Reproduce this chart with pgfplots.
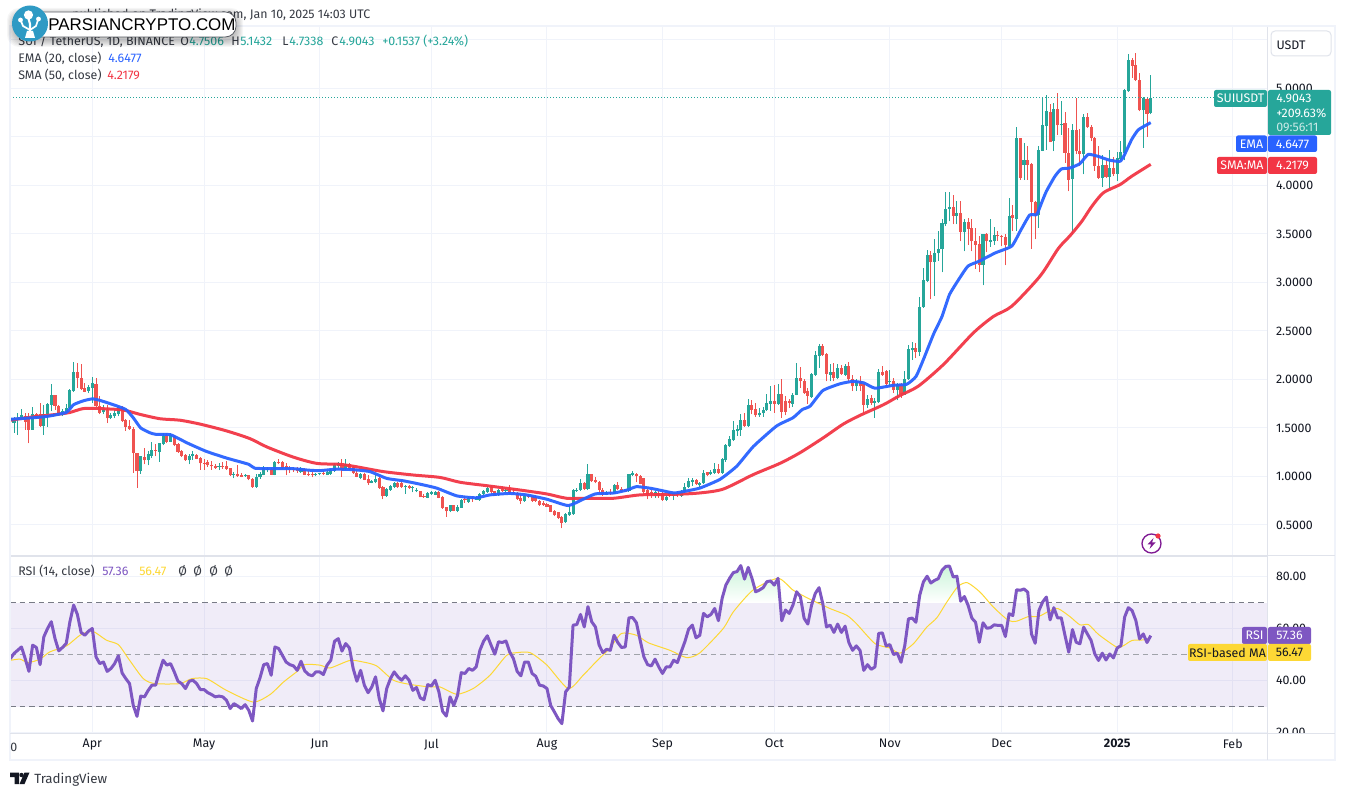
\documentclass[border=0pt]{standalone}
\usepackage{fontspec}
\usepackage{pgfplots}
\usepackage{pgfplotstable}
\pgfplotsset{compat=1.18}
\setmainfont{Fira Sans}
\definecolor{cup}{HTML}{26A69A}
\definecolor{cdn}{HTML}{EF5350}
\definecolor{cema}{HTML}{2962FF}
\definecolor{csma}{HTML}{F23645}
\definecolor{crsi}{HTML}{7E57C2}
\definecolor{cma}{HTML}{FDD835}
\definecolor{cgrid}{HTML}{F0F3FA}
\definecolor{cframe}{HTML}{E0E3EB}
\definecolor{ctxt}{HTML}{131722}
\definecolor{cdash}{HTML}{787B86}
\definecolor{clogo}{HTML}{2F9AC4}
\pgfplotstableread{
d o h l c
-22 1.60 1.63 1.50 1.57
-21 1.55 1.61 1.45 1.59
-20 1.58 1.65 1.43 1.60
-19 1.60 1.70 1.59 1.63
-18 1.62 1.65 1.48 1.56
-17 1.60 1.65 1.34 1.48
-16 1.48 1.72 1.48 1.64
-15 1.64 1.65 1.59 1.60
-14 1.64 1.76 1.51 1.52
-13 1.52 1.74 1.43 1.64
-12 1.64 1.76 1.51 1.75
-11 1.74 1.95 1.67 1.835
-10 1.835 1.835 1.69 1.73
-9 1.73 1.735 1.63 1.64
-8 1.63 1.70 1.62 1.68
-7 1.66 1.75 1.64 1.71
-6 1.71 1.90 1.70 1.89
-5 1.88 2.18 1.87 2.08
-4 2.08 2.17 1.91 2.01
-3 2.02 2.155 1.89 1.90
-2 1.91 1.965 1.87 1.875
-1 1.88 1.94 1.86 1.92
0 1.91 2.03 1.76 1.965
1 1.95 2.02 1.72 1.725
2 1.725 1.83 1.64 1.655
3 1.66 1.74 1.64 1.70
4 1.69 1.74 1.55 1.60
5 1.60 1.655 1.59 1.63
6 1.62 1.69 1.60 1.65
7 1.64 1.725 1.62 1.72
8 1.72 1.73 1.56 1.57
9 1.58 1.59 1.47 1.51
10 1.525 1.58 1.48 1.485
11 1.49 1.51 1.04 1.24
12 1.245 1.245 0.885 1.055
13 1.055 1.215 1.03 1.21
14 1.20 1.295 1.125 1.165
15 1.165 1.26 1.115 1.23
16 1.215 1.355 1.19 1.27
17 1.275 1.33 1.21 1.265
18 1.25 1.34 1.15 1.34
19 1.33 1.445 1.32 1.42
20 1.43 1.45 1.34 1.36
21 1.36 1.45 1.355 1.43
22 1.415 1.43 1.31 1.32
23 1.335 1.35 1.245 1.25
24 1.26 1.27 1.20 1.215
25 1.225 1.235 1.16 1.165
26 1.165 1.235 1.125 1.215
27 1.215 1.26 1.17 1.225
28 1.225 1.235 1.175 1.185
29 1.19 1.20 1.07 1.135
30 1.14 1.175 1.07 1.13
31 1.15 1.165 1.10 1.115
32 1.12 1.16 1.07 1.105
33 1.11 1.125 1.08 1.09
34 1.095 1.14 1.065 1.10
35 1.11 1.15 1.08 1.10
36 1.105 1.16 1.07 1.08
37 1.085 1.09 1.005 1.01
38 1.01 1.045 0.98 1.03
39 1.03 1.115 0.995 1.00
40 1.01 1.035 0.99 0.995
41 1.00 1.03 0.995 1.015
42 1.01 1.015 0.96 0.97
43 0.975 0.985 0.885 0.89
44 0.89 1.03 0.885 0.995
45 0.99 1.045 0.975 1.03
46 1.02 1.105 1.01 1.09
47 1.065 1.10 1.045 1.08
48 1.08 1.085 1.015 1.02
49 1.02 1.16 1.01 1.15
50 1.15 1.175 1.125 1.135
51 1.15 1.16 1.08 1.09
52 1.11 1.135 1.01 1.08
53 1.09 1.105 1.04 1.07
54 1.08 1.10 1.045 1.065
55 1.07 1.10 1.04 1.06
56 1.045 1.10 1.04 1.09
57 1.08 1.085 1.015 1.02
58 1.03 1.055 1.00 1.015
59 1.02 1.045 0.99 1.015
60 1.015 1.04 1.00 1.03
61 1.025 1.04 1.01 1.03
62 1.03 1.055 1.01 1.025
63 1.015 1.065 1.01 1.05
64 1.03 1.08 1.02 1.065
65 1.06 1.135 1.05 1.115
66 1.11 1.15 1.09 1.14
67 1.115 1.18 0.995 1.07
68 1.075 1.18 1.07 1.125
69 1.125 1.14 1.07 1.08
70 1.10 1.11 1.03 1.035
71 1.04 1.06 0.99 0.995
72 0.985 1.04 0.97 1.025
73 1.025 1.04 0.96 0.965
74 0.97 1.015 0.915 0.93
75 0.935 0.965 0.93 0.95
76 0.94 1.015 0.93 0.975
77 0.985 1.005 0.875 0.885
78 0.895 0.905 0.765 0.795
79 0.80 0.88 0.79 0.87
80 0.865 0.915 0.855 0.90
81 0.895 0.94 0.885 0.93
82 0.93 0.94 0.885 0.89
83 0.93 0.96 0.885 0.895
84 0.89 0.91 0.82 0.90
85 0.90 0.91 0.875 0.885
86 0.88 0.897 0.835 0.887
87 0.845 0.885 0.835 0.85
88 0.85 0.855 0.785 0.785
89 0.80 0.82 0.78 0.785
90 0.78 0.84 0.775 0.83
91 0.82 0.85 0.81 0.835
92 0.81 0.855 0.805 0.84
93 0.84 0.855 0.775 0.78
94 0.79 0.795 0.665 0.675
95 0.685 0.69 0.585 0.64
96 0.64 0.71 0.63 0.705
97 0.705 0.71 0.64 0.645
98 0.645 0.705 0.63 0.685
99 0.68 0.765 0.675 0.755
100 0.76 0.795 0.73 0.755
101 0.74 0.795 0.73 0.78
102 0.78 0.795 0.74 0.77
103 0.76 0.80 0.755 0.785
104 0.755 0.83 0.75 0.82
105 0.815 0.865 0.81 0.85
106 0.84 0.905 0.83 0.885
107 0.895 0.91 0.83 0.835
108 0.85 0.855 0.795 0.80
109 0.805 0.875 0.80 0.86
110 0.86 0.895 0.84 0.855
111 0.85 0.885 0.835 0.86
112 0.875 0.91 0.82 0.83
113 0.84 0.885 0.82 0.83
114 0.83 0.84 0.76 0.765
115 0.78 0.81 0.715 0.745
116 0.745 0.81 0.74 0.80
117 0.80 0.82 0.775 0.79
118 0.795 0.80 0.74 0.745
119 0.79 0.80 0.74 0.75
120 0.75 0.76 0.70 0.705
121 0.73 0.745 0.70 0.705
122 0.72 0.73 0.685 0.69
123 0.705 0.71 0.63 0.635
124 0.645 0.655 0.59 0.60
125 0.63 0.635 0.565 0.575
126 0.585 0.595 0.465 0.525
127 0.53 0.62 0.52 0.61
128 0.60 0.705 0.595 0.63
129 0.61 0.87 0.605 0.86
130 0.85 0.885 0.84 0.86
131 0.86 0.97 0.85 0.93
132 0.935 0.94 0.86 0.87
133 0.87 1.125 0.86 1.025
134 1.025 1.03 0.945 0.95
135 0.965 0.99 0.93 0.94
136 0.945 0.95 0.83 0.86
137 0.86 0.885 0.80 0.81
138 0.81 0.85 0.805 0.84
139 0.84 0.87 0.81 0.83
140 0.82 0.92 0.815 0.915
141 0.915 0.945 0.86 0.87
142 0.875 0.89 0.835 0.84
143 0.87 0.875 0.835 0.84
144 0.85 1.03 0.84 1.025
145 1.02 1.06 1.00 1.025
146 1.025 1.035 0.94 1.00
147 1.005 1.015 0.92 0.925
148 0.98 0.985 0.83 0.835
149 0.86 0.875 0.765 0.815
150 0.84 0.865 0.78 0.825
151 0.80 0.85 0.78 0.84
152 0.83 0.85 0.78 0.80
153 0.83 0.84 0.75 0.755
154 0.755 0.805 0.745 0.79
155 0.825 0.84 0.79 0.80
156 0.80 0.83 0.755 0.815
157 0.83 0.845 0.79 0.81
158 0.80 0.865 0.79 0.845
159 0.84 0.93 0.825 0.895
160 0.89 0.985 0.88 0.95
161 0.945 0.98 0.90 0.96
162 0.96 0.975 0.915 0.92
163 0.915 0.94 0.895 0.935
164 0.93 1.07 0.92 1.04
165 1.045 1.05 1.00 1.02
166 1.025 1.065 1.01 1.05
167 1.04 1.14 1.03 1.08
168 1.08 1.125 1.03 1.04
169 1.04 1.19 1.03 1.175
170 1.17 1.33 1.15 1.32
171 1.31 1.415 1.305 1.39
172 1.375 1.57 1.365 1.475
173 1.465 1.535 1.42 1.485
174 1.475 1.64 1.42 1.585
175 1.585 1.655 1.51 1.52
176 1.52 1.795 1.51 1.74
177 1.74 1.785 1.64 1.69
178 1.70 1.76 1.615 1.63
179 1.63 1.71 1.615 1.655
180 1.65 1.72 1.615 1.69
181 1.685 1.855 1.68 1.76
182 1.75 1.93 1.675 1.775
183 1.775 1.94 1.655 1.75
184 1.75 1.95 1.74 1.855
185 1.855 2.005 1.605 1.665
186 1.78 1.83 1.63 1.665
187 1.78 1.80 1.71 1.76
188 1.75 1.86 1.72 1.845
189 1.84 2.17 1.835 2.015
190 2.015 2.13 1.915 1.98
191 1.985 2.00 1.855 1.86
192 1.88 1.915 1.75 1.83
193 1.82 2.07 1.81 2.06
194 2.05 2.29 2.035 2.25
195 2.24 2.37 2.12 2.35
196 2.35 2.37 2.24 2.25
197 2.26 2.27 1.98 2.06
198 2.05 2.155 1.98 2.08
199 2.08 2.17 1.98 2.02
200 2.02 2.155 2.00 2.12
201 2.12 2.145 2.05 2.06
202 2.05 2.155 2.04 2.14
203 2.14 2.18 1.98 2.00
204 2.005 2.05 1.88 1.93
205 1.93 2.00 1.88 1.98
206 1.98 2.04 1.88 1.93
207 1.95 1.955 1.655 1.74
208 1.74 1.845 1.71 1.80
209 1.805 1.84 1.74 1.755
210 1.76 1.805 1.605 1.775
211 1.765 2.11 1.76 2.075
212 2.08 2.14 2.04 2.05
213 2.085 2.10 1.93 1.95
214 1.97 2.10 1.93 1.98
215 1.98 2.015 1.86 1.895
216 1.895 1.965 1.785 1.95
217 1.95 1.965 1.81 1.855
218 1.845 2.085 1.84 2.005
219 2.00 2.36 1.995 2.31
220 2.30 2.39 2.205 2.32
221 2.32 2.38 2.22 2.285
222 2.28 2.85 2.24 2.75
223 2.745 3.15 2.74 3.03
224 3.02 3.33 3.01 3.28
225 3.28 3.32 2.825 3.21
226 3.21 3.445 2.86 3.305
227 3.30 3.53 3.225 3.35
228 3.34 3.65 3.105 3.61
229 3.60 3.93 3.58 3.76
230 3.755 3.93 3.63 3.78
231 3.78 3.905 3.60 3.69
232 3.69 3.84 3.60 3.72
233 3.72 3.84 3.425 3.52
234 3.52 3.655 3.32 3.625
235 3.625 3.665 3.39 3.555
236 3.565 3.655 3.32 3.425
237 3.43 3.565 3.14 3.39
238 3.40 3.48 3.105 3.185
239 3.185 3.50 2.97 3.495
240 3.495 3.51 3.31 3.425
241 3.42 3.655 3.37 3.44
242 3.43 3.575 3.39 3.485
243 3.485 3.53 3.43 3.475
244 3.475 3.49 3.375 3.47
245 3.47 3.495 3.175 3.385
246 3.38 3.87 3.375 3.69
247 3.70 3.795 3.53 3.66
248 3.65 4.60 3.53 4.49
249 4.485 4.49 4.06 4.08
250 4.21 4.44 4.06 4.26
251 4.26 4.405 4.06 4.215
252 4.225 4.23 3.35 3.83
253 3.83 3.84 3.445 3.70
254 3.70 4.405 3.565 4.37
255 4.36 4.905 4.355 4.62
256 4.61 4.93 4.37 4.765
257 4.76 4.845 4.445 4.445
258 4.455 4.85 4.355 4.785
259 4.785 4.955 4.525 4.62
260 4.62 4.87 4.525 4.635
261 4.64 4.755 4.235 4.335
262 4.34 4.595 3.94 4.06
263 4.07 4.63 3.495 4.575
264 4.575 4.905 4.32 4.355
265 4.36 4.585 4.20 4.32
266 4.32 4.74 4.115 4.71
267 4.71 4.75 4.595 4.60
268 4.605 4.62 4.455 4.485
269 4.49 4.50 4.15 4.20
270 4.205 4.41 4.07 4.08
271 4.08 4.31 3.985 4.215
272 4.215 4.26 4.08 4.085
273 4.085 4.365 3.96 4.18
274 4.18 4.295 4.095 4.115
275 4.12 4.345 4.045 4.285
276 4.27 4.455 4.25 4.345
277 4.335 4.99 4.26 4.98
278 4.97 5.36 4.965 5.29
279 5.29 5.315 5.11 5.235
280 5.245 5.365 5.075 5.085
281 5.09 5.16 4.765 4.775
282 4.775 4.915 4.39 4.90
283 4.895 4.90 4.50 4.74
284 4.7506 5.1432 4.7338 4.9043
}\candles
\begin{document}
\begin{tikzpicture}[font=\fontsize{9.3pt}{11pt}\selectfont]
\path[use as bounding box,fill=white] (0,0) rectangle (1008.75pt,597pt);
% ---------- price pane
\begin{axis}[
  at={(7.5pt,180pt)},anchor=south west,scale only axis,
  width=942.75pt,height=396.75pt,
  xmin=-22.08,xmax=315.2,ymin=0.18,ymax=5.634,
  axis line style={draw=cframe,line width=0.75pt},
  xtick={0,30,61,91,122,153,183,214,244,275,306},xticklabels={},
  ytick={0.5,1,1.5,2,2.5,3,3.5,4,5},
  extra y ticks={4.5,5.5},extra y tick labels={},
  extra y tick style={grid=major},
  ytick pos=right,yticklabel pos=right,
  major tick length=0pt,
  grid=major,grid style={draw=cgrid,line width=0.75pt},
  yticklabel style={anchor=west,inner sep=0pt,xshift=6.6pt,text=ctxt,
    /pgf/number format/.cd,fixed,fixed zerofill,precision=4,assume math mode=true},
  clip=true,
]
\addplot[draw=none,no markers,error bars/.cd,y dir=plus,y explicit,error mark=none,
  error bar style={draw=cup,solid,line width=0.75pt}]
  table[x=d,y expr={\thisrow{c}>=\thisrow{o} ? \thisrow{l} : nan},y error plus expr={\thisrow{h}-\thisrow{l}}]{\candles};
\addplot[draw=none,no markers,error bars/.cd,y dir=plus,y explicit,error mark=none,
  error bar style={draw=cdn,solid,line width=0.75pt}]
  table[x=d,y expr={\thisrow{c}<\thisrow{o} ? \thisrow{l} : nan},y error plus expr={\thisrow{h}-\thisrow{l}}]{\candles};
\addplot[draw=none,no markers,error bars/.cd,y dir=plus,y explicit,error mark=none,
  error bar style={draw=cup,solid,line width=2.3pt}]
  table[x=d,y expr={\thisrow{c}>=\thisrow{o} ? \thisrow{o} : nan},y error plus expr={max(\thisrow{c}-\thisrow{o},0.012)}]{\candles};
\addplot[draw=none,no markers,error bars/.cd,y dir=plus,y explicit,error mark=none,
  error bar style={draw=cdn,solid,line width=2.3pt}]
  table[x=d,y expr={\thisrow{c}<\thisrow{o} ? \thisrow{c} : nan},y error plus expr={max(\thisrow{o}-\thisrow{c},0.012)}]{\candles};
\addplot[csma,line width=2.25pt,line join=round,opacity=0.95,smooth,tension=0.45] coordinates {(-22,1.58)(-15.8,1.615)(-9.6,1.64)(-6,1.66)(-2.4,1.70)(2,1.70)(8.3,1.685)(12.8,1.64)(18.2,1.595)(23.5,1.58)(28.9,1.54)(36,1.47)(42.3,1.39)(46.8,1.305)(53.9,1.20)(60.2,1.135)(66.5,1.125)(70.9,1.10)(78.1,1.05)(86.1,1.015)(93.3,0.99)(98.7,0.94)(105.8,0.905)(114.8,0.86)(121.9,0.82)(127.3,0.775)(132.6,0.775)(139.8,0.775)(147,0.81)(155.9,0.815)(163,0.83)(169.3,0.87)(177.4,1.02)(184.5,1.135)(189.9,1.245)(196.2,1.40)(201.5,1.54)(206,1.63)(212.3,1.74)(216.7,1.835)(221.6,1.93)(228.4,2.155)(236.4,2.48)(241.8,2.65)(246.7,2.755)(254.3,3.065)(259.2,3.35)(262.3,3.48)(265.5,3.63)(268.2,3.785)(271.3,3.925)(275.8,4.01)(278.9,4.095)(284,4.2179)};
\addplot[cema,line width=2.25pt,line join=round,opacity=0.95,smooth,tension=0.3] coordinates {(-22,1.59)(-16,1.605)(-12,1.62)(-7,1.66)(-5,1.74)(-2.4,1.78)(0,1.80)(2,1.785)(6,1.735)(9,1.69)(11,1.605)(13,1.50)(15.5,1.45)(17,1.435)(21,1.43)(25.5,1.345)(30.5,1.26)(36,1.19)(42,1.125)(43.6,1.085)(48.5,1.08)(54,1.08)(58,1.065)(61,1.06)(65.5,1.075)(70,1.07)(74.5,1.05)(79,0.98)(83.5,0.955)(88,0.92)(92.4,0.88)(97.8,0.80)(103,0.78)(106.7,0.81)(112,0.825)(116.5,0.81)(122,0.765)(127.7,0.70)(131.7,0.765)(135,0.82)(140,0.83)(143.5,0.86)(146,0.895)(149.5,0.88)(151.5,0.865)(156,0.83)(158,0.84)(163,0.88)(168.4,0.97)(172.9,1.105)(177.4,1.31)(183.6,1.52)(188,1.605)(190.5,1.69)(192.6,1.725)(196,1.885)(200.6,1.955)(204,1.98)(207,1.965)(210,1.91)(215,1.94)(218.5,1.95)(221,2.03)(223,2.205)(225.7,2.465)(228,2.65)(230,2.875)(232.8,3.05)(235,3.17)(238,3.22)(242.3,3.305)(246.7,3.375)(249,3.53)(251.5,3.695)(253.4,3.70)(254.7,3.82)(256,3.94)(258.3,4.095)(260,4.17)(262.3,4.18)(265,4.225)(267.2,4.32)(269.9,4.30)(273,4.26)(275.8,4.25)(277,4.32)(278.9,4.475)(280.7,4.575)(284,4.6477)};
\addplot[cup,line width=0.9pt,dash pattern=on 0.9pt off 1.35pt] coordinates {(-22.08,4.9043)(315.2,4.9043)};
\end{axis}
% ---------- RSI pane
\begin{axis}[
  at={(7.5pt,47.25pt)},anchor=south west,scale only axis,
  width=942.75pt,height=132pt,
  xmin=-22.08,xmax=315.2,ymin=19.9,ymax=87.6,
  axis line style={draw=cframe,line width=0.75pt},
  xtick={0,30,61,91,122,153,183,214,244,275,306},
  xticklabels={Apr,May,Jun,Jul,Aug,Sep,Oct,Nov,Dec,\textbf{2025},Feb},
  xtick pos=bottom,
  xticklabel style={yshift=-4.5pt,text=ctxt,anchor=north,inner sep=0pt},
  ytick={20,40,60,80},
  ytick pos=right,yticklabel pos=right,
  major tick length=0pt,
  grid=major,grid style={draw=cgrid,line width=0.75pt},
  yticklabel style={anchor=west,inner sep=0pt,xshift=6.6pt,text=ctxt,
    /pgf/number format/.cd,fixed,fixed zerofill,precision=2,assume math mode=true},
  clip=true,
]
\addplot[draw=none,fill=crsi,fill opacity=0.11] coordinates {(-22.08,30)(315.2,30)(315.2,70)(-22.08,70)} -- cycle;
\addplot[cdash,line width=0.75pt,dash pattern=on 4.2pt off 3pt] coordinates {(-22.08,70)(315.2,70)};
\addplot[cdash!70,line width=0.75pt,dash pattern=on 4.2pt off 3pt] coordinates {(-22.08,50)(315.2,50)};
\addplot[cdash,line width=0.75pt,dash pattern=on 4.2pt off 3pt] coordinates {(-22.08,30)(315.2,30)};
\addplot[draw=none,top color=green!45!cup!22!white,bottom color=white] coordinates {(168.7,70)(169,71.7)(170,76.8)(171,79.4)(172,81.6)(173,82)(174,84.3)(175,79.1)(176,83.6)(177,79.4)(178,74.2)(179,74.9)(180,75.8)(181,78.1)(182,78.4)(183,76.8)(184,79.4)(184.7,70)} -- cycle;
\addplot[draw=none,top color=green!45!cup!22!white,bottom color=white] coordinates {(221.7,70)(222,72.8)(223,78)(224,80.2)(225,77.6)(226,78.6)(227,79.3)(228,82.5)(229,84)(230,84.1)(231,79.9)(232,80.2)(233,70.6)(234,72.4)(234.7,70)} -- cycle;
\addplot[draw=none,top color=green!45!cup!8!white,bottom color=white] coordinates {(247.3,70)(248,75)(249,74.8)(250,75.3)(251,74.1)(251.8,70)} -- cycle;
\addplot[cma,line width=0.75pt,line join=round,smooth,tension=0.4] coordinates {(-21.8,47.9)(-19.4,48.3)(-17.2,47)(-14,48.3)(-11.4,51.1)(-6.9,53.4)(-3.3,57.5)(0,59.1)(3.8,55.6)(7,53.9)(9.7,48.5)(13.7,40.8)(16.8,38.9)(23.5,38.9)(26.7,40.8)(30.7,40.8)(36,36.3)(43.2,31.8)(47.7,34.7)(51.3,39.5)(54.8,43.4)(57,46.2)(61.1,46)(63.8,44.9)(69.1,47.8)(72.7,47.2)(76.3,45.7)(80.8,40.2)(85.2,38.6)(90.6,37.6)(93.3,37.6)(97.8,34.8)(102.2,37)(106.7,42.1)(111.2,49.8)(113.9,50.8)(117.5,50.8)(122,46)(127.7,37)(131.7,42.1)(135.3,47.5)(138.8,52.4)(142,58.2)(146,57.5)(149.2,54.6)(155,51.7)(159.5,48.9)(163,50.7)(169.3,60.1)(172,66.5)(177.3,74.9)(184,79.4)(188,74.9)(192.5,71.4)(197.9,67.8)(202.4,65.2)(205,62)(210,54.3)(214,52.6)(216.7,50.6)(220.3,54.2)(223.9,60.6)(226.6,64.2)(229.3,70.3)(232.3,76.3)(234.8,77.7)(238.2,74.1)(241.8,68.3)(245.8,63.2)(248,62.9)(251.2,64.7)(253.9,64.7)(257,67)(259.2,67.7)(262.3,64.7)(265,61.5)(267.3,61.6)(270,57.8)(274.9,52.9)(276.7,53.5)(279,55.5)(282,55.7)(284,56.47)};
\addplot[crsi,line width=2.25pt,line join=round] coordinates {(-22,48.5)(-21,50.5)(-19,53)(-18,48.5)(-17,43.6)(-16,53.7)(-15,52.8)(-14,46.2)(-13,56.9)(-12,60.1)(-11,62.7)(-10,56.2)(-9,51.5)(-8,52.8)(-7,54.3)(-6,62.7)(-5,69.1)(-4,65.5)(-3,58.6)(-2,57.5)(-1,59.1)(0,60.1)(1,49.2)(2,46.6)(3,47.2)(4,43.6)(5,44.7)(6,46.6)(7,49.6)(8,43)(9,40.8)(10,38.9)(11,30.5)(12,26.3)(13,34.1)(14,33.8)(15,36.3)(16,38.3)(17,38.3)(18,43.4)(19,47.9)(20,46)(21,46.6)(22,43.4)(23,39.8)(24,38.9)(25,37)(26,39.8)(27,40.2)(28,38.9)(29,36.6)(30,36.6)(31,35.4)(32,34.7)(33,33.8)(34,34.1)(35,33.8)(36,32.5)(37,29.3)(38,31.2)(39,30.3)(40,29.3)(41,30.8)(42,28.6)(43,24.5)(44,37)(45,41.1)(46,46.2)(47,46.6)(48,42.1)(49,53)(50,52.4)(51,49.8)(52,47.2)(53,46.2)(54,45.7)(55,44)(56,47.5)(57,43.8)(58,42.4)(59,41.9)(60,43.4)(61,43.4)(62,42.4)(63,46)(64,47.9)(65,55.2)(66,56.2)(67,51.4)(68,54.3)(69,52.6)(70,44.7)(71,39.8)(72,44)(73,38.3)(74,35.4)(75,37.6)(76,41.5)(77,33.1)(78,28.4)(79,37)(80,40.8)(81,43.4)(82,41.5)(83,40.2)(84,41.9)(85,40.2)(86,36.3)(87,37.4)(88,33.4)(89,32.7)(90,38.5)(91,38)(92,40.2)(93,35.7)(94,28.2)(95,26.4)(96,33.8)(97,30.5)(98,34.4)(99,43.1)(100,42.8)(101,44.7)(102,44)(103,45.3)(104,51.7)(105,55.2)(106,57.3)(107,53.7)(108,50.2)(109,55)(110,54.7)(111,55.3)(112,51.1)(113,48.5)(114,43.6)(115,41.9)(116,47.2)(117,47.2)(118,42.8)(119,41.7)(120,38.3)(121,38)(122,37)(123,30.5)(124,28)(125,25.4)(126,23.5)(127,35.7)(128,37.6)(129,61.4)(130,61.6)(131,65.5)(132,60.7)(133,68.5)(134,62.7)(135,60.7)(136,53.7)(137,50.8)(138,52.1)(139,51.7)(140,57.5)(141,54.7)(142,52.8)(143,53)(144,64.2)(145,64.3)(146,62.3)(147,55.6)(148,49.2)(149,46.2)(150,45.7)(151,48.3)(152,45.3)(153,42.8)(154,45.3)(155,45.3)(156,47.9)(157,47)(158,51.1)(159,55)(160,59.8)(161,61.4)(162,56.5)(163,57.5)(164,65.9)(165,64.6)(166,65.5)(167,67.8)(168,63.1)(169,71.7)(170,76.8)(171,79.4)(172,81.6)(173,82)(174,84.3)(175,79.1)(176,83.6)(177,79.4)(178,74.2)(179,74.9)(180,75.8)(181,78.1)(182,78.4)(183,76.8)(184,79.4)(185,63.1)(186,67.2)(187,65.9)(188,69.1)(189,74.2)(190,72.3)(191,64)(192,61.8)(193,69.1)(194,73.6)(195,75.8)(196,69.7)(197,60.7)(198,61.4)(199,58.6)(200,61.8)(201,58.6)(202,61)(203,54.7)(204,51.7)(205,53.4)(206,51.7)(207,44)(208,46.2)(209,44.4)(210,45.3)(211,58.2)(212,58.4)(213,53.4)(214,53.9)(215,50.1)(216,50.6)(217,47.1)(218,53.5)(219,63.8)(220,64.1)(221,62.5)(222,72.8)(223,78)(224,80.2)(225,77.6)(226,78.6)(227,79.3)(228,82.5)(229,84)(230,84.1)(231,79.9)(232,80.2)(233,70.6)(234,72.4)(235,69)(236,64.1)(237,62.5)(238,54.8)(239,62.3)(240,60.2)(241,60.4)(242,61.5)(243,61.3)(244,61.3)(245,57)(246,65.8)(247,65.1)(248,75)(249,74.8)(250,75.3)(251,74.1)(252,58)(253,54.4)(254,67)(255,70.3)(256,72.2)(257,63.4)(258,68.1)(259,64.2)(260,64.2)(261,57.4)(262,51)(263,59.7)(264,54.8)(265,54.2)(266,60.6)(267,58)(268,55.5)(269,50.3)(270,47.8)(271,50.6)(272,48)(273,50.3)(274,48.8)(275,52.6)(276,53.5)(277,64.5)(278,68.1)(279,67)(280,63.2)(281,56.1)(282,58)(283,54.7)(284,57.36)};
\end{axis}
% ---------- overlay, in pixels from the top left
\begin{scope}[x=0.75pt,y=-0.75pt,shift={(0,597pt)}]
\fill[white] (1268,733.4) rectangle (1334,759);
\draw[cgrid,line width=1.5pt] (10,26.5) rectangle (1335,760);
\draw[cframe,line width=0.75pt] (10,733) -- (1335,733);
\draw[cframe,line width=0.75pt] (1267,27) -- (1267,760);
\draw[cframe,line width=0.75pt] (1267,556) -- (1335,556);
% USDT button
\draw[cframe,line width=0.75pt,fill=white,rounded corners=3pt] (1271,31) rectangle (1331,56);
\node[text=ctxt] at (1291,45) {USDT};
% left legends
\tikzset{tl/.style={anchor=base west,inner sep=0pt}}
\node[tl,text=ctxt!85] at (72,19) {published on TradingView.com, Jan 10, 2025 14:03 UTC};
\node[tl,text=ctxt!85] at (18,46) {SUI / TetherUS, 1D, BINANCE};
\node[tl,text=ctxt!85] at (180,46) {O};
\node[tl,text=cup] at (189,46) {4.7506};
\node[tl,text=ctxt!85] at (231,46) {H};
\node[tl,text=cup] at (240,46) {5.1432};
\node[tl,text=ctxt!85] at (282,46) {L};
\node[tl,text=cup] at (289,46) {4.7338};
\node[tl,text=ctxt!85] at (331,46) {C};
\node[tl,text=cup] at (339,46) {4.9043};
\node[tl,text=cup] at (382,46) {+0.1537 (+3.24\%)};
\node[tl,text=ctxt!85] at (18,63) {EMA (20, close)};
\node[tl,text=cema] at (108,63) {4.6477};
\node[tl,text=ctxt!85] at (18,80) {SMA (50, close)};
\node[tl,text=csma] at (107,80) {4.2179};
\node[tl,text=ctxt!85] at (18,576) {RSI (14, close)};
\node[tl,text=crsi] at (102,576) {57.36};
\node[tl,text=cma] at (139,576) {56.47};
\node[tl,text=ctxt!85] at (178,576) {Ø};
\node[tl,text=ctxt!85] at (193,576) {Ø};
\node[tl,text=ctxt!85] at (209,576) {Ø};
\node[tl,text=ctxt!85] at (224,576) {Ø};
\node[tl,text=ctxt!85] at (10,751) {0};
% right-hand value labels
\tikzset{bx/.style={rounded corners=1.5pt},bt/.style={text=white,inner sep=0pt}}
\fill[cup,bx] (1214,90) rectangle (1267,107);
\node[bt] at (1240.5,98.5) {SUIUSDT};
\fill[cup,bx] (1268,90) rectangle (1331,135);
\node[bt,anchor=base west] at (1276,103) {4.9043};
\node[bt,anchor=base west] at (1276,117.5) {+209.63\%};
\node[bt,anchor=base west,text=white!75!cup] at (1276,131.5) {09:56:11};
\fill[cema,bx] (1236,135.5) rectangle (1267,152);
\node[bt] at (1251.5,144) {EMA};
\fill[cema,bx] (1268,135.5) rectangle (1317,152);
\node[bt] at (1292.5,144) {4.6477};
\fill[csma,bx] (1217,157) rectangle (1267,174);
\node[bt] at (1242,165.5) {SMA:MA};
\fill[csma,bx] (1268,157) rectangle (1317,174);
\node[bt] at (1292.5,165.5) {4.2179};
\fill[crsi,bx] (1242,627) rectangle (1267,644);
\node[bt] at (1254.5,635.5) {RSI};
\fill[crsi,bx] (1268,627) rectangle (1311,644);
\node[bt] at (1289.5,635.5) {57.36};
\fill[cma,bx] (1188,644) rectangle (1267,661);
\node[bt,text=ctxt] at (1227.5,652.5) {RSI-based MA};
\fill[cma,bx] (1268,644) rectangle (1311,661);
\node[bt,text=ctxt] at (1289.5,652.5) {56.47};
% bolt icon
\draw[violet!70!crsi,line width=1pt,fill=white] (1151.5,543.5) circle (9.5);
\fill[violet!70!crsi] (1153.5,538) -- (1147.5,544.5) -- (1151,544.5) -- (1149.5,549) -- (1155.5,542.5) -- (1152,542.5) -- cycle;
\fill[csma] (1158,536) circle (2.6);
% watermark pill and logo
\foreach \g in {7,6,5,4,3,2,1}{\fill[black,opacity=0.035,rounded corners=9pt] (14-\g,12-\g+3) rectangle (236+\g,37+\g+3);}
\draw[ctxt!70,line width=0.6pt,fill=white,rounded corners=8pt] (14,12) rectangle (236,37);
\node[anchor=west,inner sep=0pt,text=black] at (48,25) {\fontspec{Liberation Sans}\fontsize{12.7pt}{15pt}\selectfont PARSIANCRYPTO.COM};
\fill[clogo] (30,23.5) circle (18);
\draw[white,line width=1.6pt,line cap=round] (30,37) -- (30,24) -- (28,17);
\draw[white,line width=1.3pt,line cap=round] (30,30) -- (23,26) -- (21,21);
\draw[white,line width=1.3pt,line cap=round] (30,30) -- (36,26) -- (38,20);
\fill[white] (28.5,15) circle (4.6);
\fill[white] (20.5,20) circle (2.4);
\fill[white] (38.5,19) circle (2.4);
\fill[white] (25,38) -- (35,38) -- (33,31) -- (27,31) -- cycle;
% TradingView mark
\fill[ctxt] (10,772.5) -- (19,772.5) -- (19,784) -- (14.5,784) -- (14.5,777) -- (10,777) -- cycle;
\fill[ctxt] (21.5,775) circle (2.2);
\fill[ctxt] (24.5,772.5) -- (29.5,772.5) -- (24.5,784) -- (19.5,784) -- cycle;
\node[anchor=base west,inner sep=0pt,text=ctxt!85] at (34,783) {\fontsize{10pt}{12pt}\selectfont TradingView};
\end{scope}
\end{tikzpicture}
\end{document}
